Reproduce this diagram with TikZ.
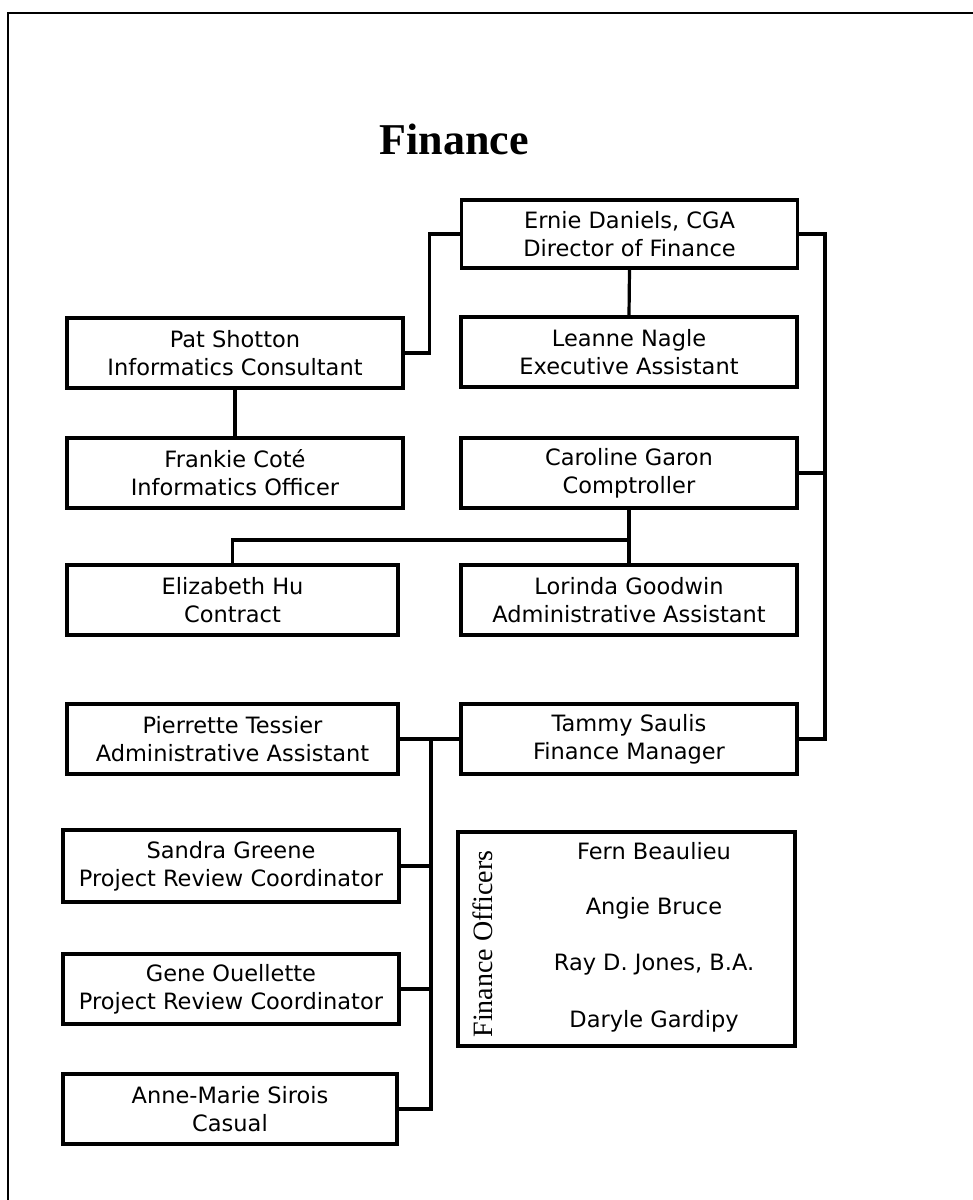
\documentclass[tikz,border=0pt]{standalone}
\usepackage{fontspec}
\setmainfont{DejaVu Sans}
\newfontfamily\serifface{Liberation Serif}
\usepackage{tikz}

\begin{document}
\begin{tikzpicture}[x=1pt, y=-1pt,
    person/.style={draw, line width=3.2, minimum width=336, minimum height=70, inner sep=0, align=center, font=\fontsize{22.5}{28}\selectfont},
    link/.style={line width=3.2}]
    \useasboundingbox (0, 0) rectangle (973, 1200);
    \draw[line width=2.2] (973, 13) -- (8, 13) -- (8, 1200);

    \node (title) at (454, 139) {\serifface\bfseries\fontsize{44}{50}\selectfont Finance};

    \node[person, minimum height=68] (ernie) at (629.5, 234) {Ernie Daniels, CGA\\Director of Finance};
    \node[person] (leanne) at (629, 352) {Leanne Nagle\\Executive Assistant};
    \node[person] (pat) at (235, 353) {Pat Shotton\\Informatics Consultant};
    \node[person] (frankie) at (235, 473) {Frankie Cot\'e\\Informatics Officer};
    \node[person] (caroline) at (629, 473) {Caroline Garon\\Comptroller};
    \node[person, minimum width=331] (elizabeth) at (232.5, 600) {Elizabeth Hu\\Contract};
    \node[person] (lorinda) at (629, 600) {Lorinda Goodwin\\Administrative Assistant};
    \node[person, minimum width=331] (pierrette) at (232.5, 739) {Pierrette Tessier\\Administrative Assistant};
    \node[person] (tammy) at (629, 739) {Tammy Saulis\\Finance Manager};
    \node[person, minimum height=72] (sandra) at (231, 866) {Sandra Greene\\Project Review Coordinator};
    \node[person] (gene) at (231, 989) {Gene Ouellette\\Project Review Coordinator};
    \node[person, minimum width=334] (anne) at (230, 1109) {Anne-Marie Sirois\\Casual};

    % finance officers
    \node[draw, line width=3.2, minimum width=337, minimum height=214] (officers) at (626.5, 939) {};
    \node[rotate=90] (offlabel) at (483, 944) {\serifface\fontsize{28}{30}\selectfont Finance Officers};
    \node[font=\fontsize{22.5}{28}\selectfont] (fern) at (654, 851) {Fern Beaulieu};
    \node[font=\fontsize{22.5}{28}\selectfont] (angie) at (654, 908) {Angie Bruce};
    \node[font=\fontsize{22.5}{28}\selectfont] (ray) at (654, 965) {Ray D. Jones, B.A.};
    \node[font=\fontsize{22.5}{28}\selectfont] (daryle) at (654, 1021) {Daryle Gardipy};

    % connectors
    \coordinate (rbus) at (825, 234);
    \coordinate (cbus) at (629, 540);
    \coordinate (lbus) at (431, 739);
    \draw[link] (pat.east) -- ++(25, 0) |- (ernie.west);
    \draw[link] (ernie.south) -- (leanne.north);
    \draw[link] (pat.south) -- (frankie.north);
    \draw[link] (ernie.east) -- (rbus) |- (tammy.east);
    \draw[link] (caroline.east) -- (caroline.east -| rbus);
    \draw[link] (caroline.south) -- (cbus) -- (lorinda.north);
    \draw[link] (cbus) -| (elizabeth.north);
    \draw[link] (pierrette.east) -- (tammy.west);
    \draw[link] (lbus) |- (anne.east);
    \draw[link] (sandra.east) -- (sandra.east -| lbus);
    \draw[link] (gene.east) -- (gene.east -| lbus);
\end{tikzpicture}
\end{document}
